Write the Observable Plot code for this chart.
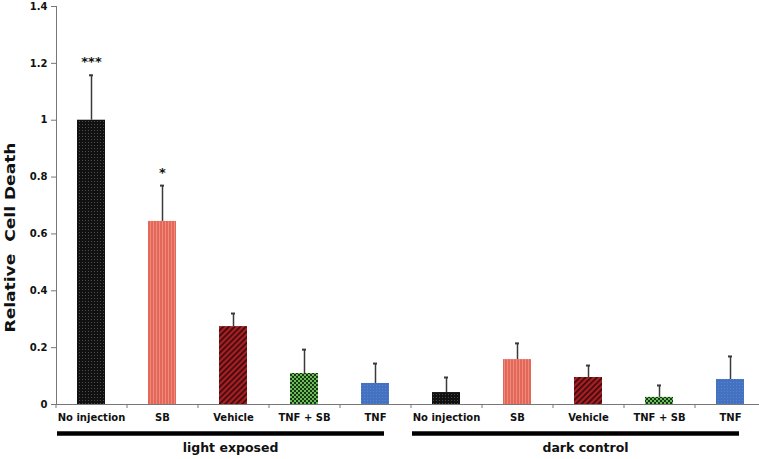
<!DOCTYPE html>
<html><head><meta charset="utf-8">
<script src="https://cdn.jsdelivr.net/npm/d3@7"></script>
<script src="https://cdn.jsdelivr.net/npm/@observablehq/plot@0.6"></script>
<style>body{margin:0;background:#fff;}</style>
</head><body>
<svg width="0" height="0" style="position:absolute">
<defs>
<pattern id="pNo" width="3" height="3" patternUnits="userSpaceOnUse"><rect width="3" height="3" fill="#111"/><rect x="1" y="1" width="1" height="1" fill="#4c4c4c"/></pattern>
<pattern id="pSB" width="3" height="3" patternUnits="userSpaceOnUse"><rect width="3" height="3" fill="#e4685a"/><rect x="0" width="1" height="3" fill="#ee8a7b"/></pattern>
<pattern id="pVeh" width="4" height="4" patternUnits="userSpaceOnUse" patternTransform="rotate(45)"><rect width="4" height="4" fill="#a91f24"/><rect width="1.7" height="4" fill="#3a0b0c"/></pattern>
<pattern id="pTS" width="4" height="4" patternUnits="userSpaceOnUse"><rect width="4" height="4" fill="#6cbc5a"/><rect width="2" height="2" fill="#163816"/><rect x="2" y="2" width="2" height="2" fill="#163816"/></pattern>
<pattern id="pTNF" width="3" height="3" patternUnits="userSpaceOnUse"><rect width="3" height="3" fill="#4571c1"/><rect x="1" y="1" width="1" height="1" fill="#5884d2"/></pattern>
</defs></svg>
<div id="chart"></div>
<script>
const groups = ["light exposed", "dark control"];
const treatments = ["No injection", "SB", "Vehicle", "TNF + SB", "TNF"];
const lightMeans = [1.0, 0.644, 0.274, 0.109, 0.074];
const lightErrors = [0.158, 0.126, 0.046, 0.084, 0.07];
const darkMeans = [0.042, 0.158, 0.095, 0.025, 0.088];
const darkErrors = [0.053, 0.057, 0.042, 0.042, 0.081];
const lightSignificance = ["***", "*", "", "", ""];
const yTicks = [0, 0.2, 0.4, 0.6, 0.8, 1, 1.2, 1.4];
const yLabel = "Relative  Cell Death";

const patternFills = ["url(#pNo)", "url(#pSB)", "url(#pVeh)", "url(#pTS)", "url(#pTNF)"];

const rows = groups.flatMap((g, gi) => treatments.map((t, ti) => ({
  key: g + "|" + t,
  group: g,
  treatment: t,
  mean: gi === 0 ? lightMeans[ti] : darkMeans[ti],
  err: gi === 0 ? lightErrors[ti] : darkErrors[ti],
  sig: gi === 0 ? lightSignificance[ti] : ""
})));
const keys = rows.map(d => d.key);
const groupRows = groups.map(g => ({
  group: g,
  first: g + "|" + treatments[0],
  mid: g + "|" + treatments[2],
  last: g + "|" + treatments[treatments.length - 1]
}));

const plot = Plot.plot({
  width: 759,
  height: 459,
  marginTop: 6,
  marginBottom: 55,
  marginLeft: 56,
  marginRight: 0,
  style: {fontFamily: "'DejaVu Sans', sans-serif", fontWeight: "bold", fontSize: "10px", color: "#111", background: "#fff"},
  x: {domain: keys, range: [56, 766], paddingInner: 0.6, paddingOuter: 0.3, axis: null},
  y: {domain: [0, 1.4], axis: null},
  color: {domain: treatments, range: patternFills},
  marks: [
    Plot.barY(rows, {x: "key", y: "mean", fill: "treatment"}),
    Plot.ruleX(rows, {x: "key", y1: "mean", y2: d => d.mean + d.err, stroke: "#3a3a3a", strokeWidth: 1.5}),
    Plot.tickY(rows, {x: "key", y: d => d.mean + d.err, stroke: "#3a3a3a", strokeWidth: 2, insetLeft: 12, insetRight: 12}),
    Plot.text(rows, {x: "key", y: d => d.mean + d.err, text: "sig", dy: -13, fontSize: 13, fill: "#111"}),
    Plot.ruleY([0], {stroke: "#777", strokeWidth: 1}),
    Plot.ruleX(keys, {x: d => d, y1: 0, y2: 0, dx: -35.5, insetBottom: -4, stroke: "#777"}),
    Plot.ruleX(keys.slice(-1), {x: d => d, y1: 0, y2: 0, dx: 35.5, insetBottom: -4, stroke: "#777"}),
    Plot.frame({anchor: "left", stroke: "#777"}),
    Plot.axisY({ticks: yTicks, tickSize: 5, tickPadding: 4, tickFormat: d => String(d), stroke: "#777", fill: "#111", label: null}),
    Plot.axisX({tickSize: 0, tickPadding: 9, tickFormat: k => k.split("|")[1], fill: "#111", label: null}),
    Plot.ruleY(groupRows, {x1: "first", x2: "last", y: 0, dy: 29, insetLeft: -20, insetRight: 5, stroke: "#000", strokeWidth: 4.5}),
    Plot.text(groupRows, {x: "mid", y: 0, text: "group", dy: 43.5, dx: -3, fontSize: 12.5, fill: "#111"}),
    Plot.text([yLabel], {frameAnchor: "left", textAnchor: "middle", rotate: -90, dx: -46.5, dy: 32, fontSize: 14.5, fill: "#111", text: d => d})
  ]
});
document.getElementById("chart").appendChild(plot);
d3.select(plot).selectAll("text").filter(function() { return this.textContent.includes("Cell Death"); })
  .attr("textLength", 190).attr("lengthAdjust", "spacingAndGlyphs");
</script>
</body></html>
